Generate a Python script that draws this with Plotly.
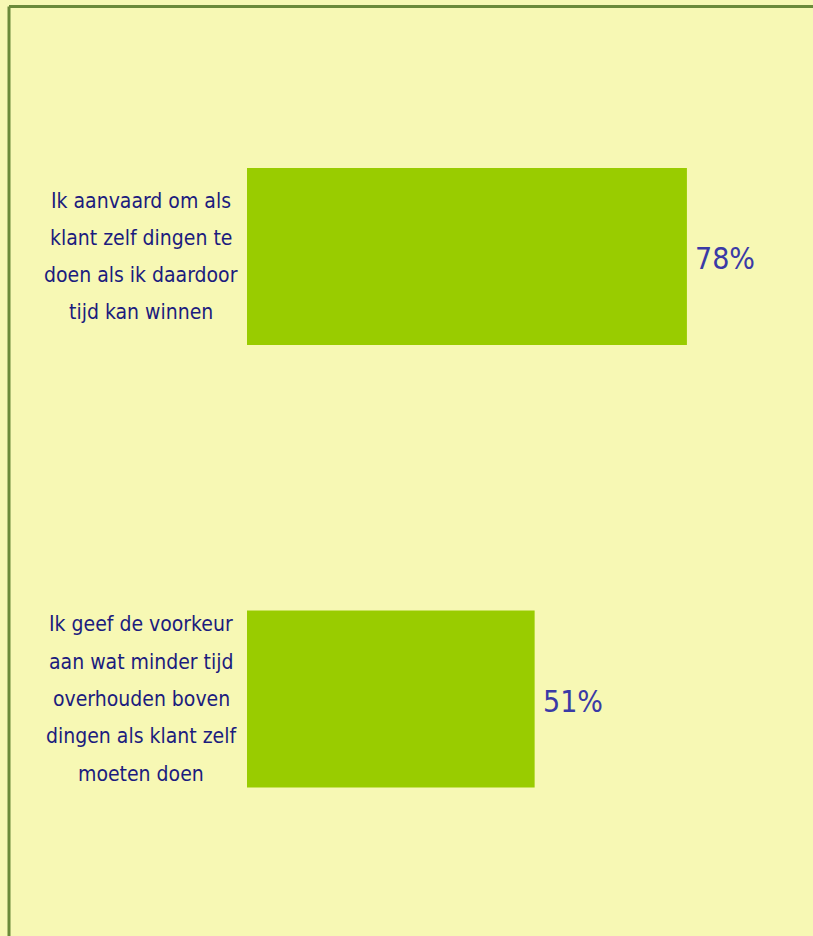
import plotly.graph_objects as go

# Survey statements (one entry per line) and share of respondents agreeing (%)
statements = [
    ["Ik aanvaard om als", "klant zelf dingen te", "doen als ik daardoor", "tijd kan winnen"],
    ["Ik geef de voorkeur", "aan wat minder tijd", "overhouden boven",
     "dingen als klant zelf", "moeten doen"],
]
categories = ["s1", "s2"]
values = [78, 51]

BG = "#F7F8B4"
BAR = "#99CC00"
LABEL = "#1C1C7E"
VALUE = "#3A3AA6"
FONT = "DejaVu Sans Condensed, Liberation Sans Narrow, sans-serif"
LINE_PITCH = 37.3

W, H = 813, 936

fig = go.Figure(
    go.Bar(
        x=values,
        y=categories,
        orientation="h",
        marker=dict(color=BAR, line=dict(width=0)),
        hoverinfo="skip",
    )
)

x0 = 247 / W
fig.update_xaxes(domain=[x0, 1 - 2 / W], range=[0, 100], visible=False, fixedrange=True)
fig.update_yaxes(
    domain=[1 - 920.25 / H, 1 - 35.25 / H],
    range=[1.5, -0.5],
    categoryorder="array",
    categoryarray=categories,
    visible=False,
    fixedrange=True,
)

# Statement text, centred in the left margin, one annotation per line
for cat, lines in zip(categories, statements):
    n = len(lines)
    for i, line in enumerate(lines):
        fig.add_annotation(
            x=141 / W, xref="paper", xanchor="center",
            y=cat, yref="y", yanchor="middle",
            yshift=((n - 1) / 2 - i) * LINE_PITCH,
            text=line, showarrow=False,
            font=dict(family=FONT, size=21, color=LABEL),
        )

# Percentage labels just past the end of each bar
for cat, v in zip(categories, values):
    fig.add_annotation(
        x=v, xref="x", xanchor="left", xshift=6,
        y=cat, yref="y", yanchor="middle", yshift=-2,
        text=f"{v}%", showarrow=False,
        font=dict(family=FONT, size=30, color=VALUE),
    )

# Olive frame along the top and left edges
fig.add_shape(type="line", xref="paper", yref="paper",
              x0=9 / W, x1=1.01, y0=1 - 6.5 / H, y1=1 - 6.5 / H,
              line=dict(color="#6B8A3A", width=3))
fig.add_shape(type="line", xref="paper", yref="paper",
              x0=9 / W, x1=9 / W, y0=-0.01, y1=1 - 6.5 / H,
              line=dict(color="#6B8A3A", width=3))

fig.update_layout(
    width=W, height=H,
    margin=dict(l=0, r=0, t=0, b=0),
    paper_bgcolor=BG, plot_bgcolor=BG,
    bargap=0.6,
    showlegend=False,
)

fig.write_html("out.html", config={"displayModeBar": False})
